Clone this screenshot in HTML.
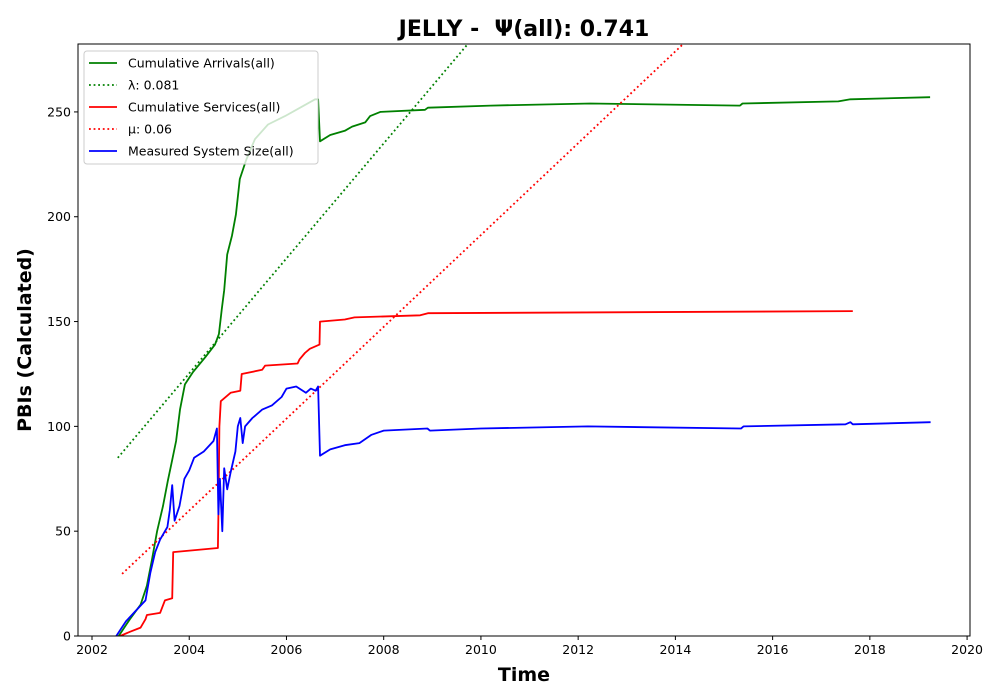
<!DOCTYPE html>
<html><head><meta charset="utf-8"><style>
html,body{margin:0;padding:0;background:#fff;}
svg{display:block;font-family:"DejaVu Sans","Liberation Sans",sans-serif;}
</style></head><body>
<svg id="chart" width="1000" height="700"></svg>
<script>
const arrivalsT=[2002.55,2002.78,2003.0,2003.13,2003.23,2003.34,2003.46,2003.56,2003.65,2003.73,2003.81,2003.91,2004.08,2004.33,2004.53,2004.61,2004.67,2004.72,2004.78,2004.88,2004.96,2005.04,2005.17,2005.35,2005.62,2005.97,2006.28,2006.59,2006.65,2006.69,2006.9,2007.2,2007.35,2007.62,2007.72,2007.93,2008.85,2008.91,2010.2,2012.25,2015.33,2015.38,2017.35,2017.6,2019.24];
const arrivalsV=[0,8,15,24,36,50,62,74,84,93,108,120,126,133,139,144,156,165,182,191,201,218,227,237,244,248,252,256,256,236,239,241,243,245,248,250,251,252,253,254,253,254,255,256,257];
const servicesT=[2002.58,2002.78,2003.0,2003.1,2003.13,2003.4,2003.5,2003.65,2003.67,2004.59,2004.6,2004.62,2004.65,2004.85,2005.05,2005.08,2005.5,2005.56,2006.23,2006.27,2006.38,2006.48,2006.68,2006.69,2007.2,2007.4,2008.75,2008.91,2017.65];
const servicesV=[0,2,4,8,10,11,17,18,40,42,58,100,112,116,117,125,127,129,130,132,135,137,139,150,151,152,153,154,155];
const sizeT=[2002.5,2002.7,2002.9,2003.1,2003.2,2003.3,2003.4,2003.55,2003.6,2003.65,2003.7,2003.8,2003.9,2004.0,2004.1,2004.3,2004.5,2004.57,2004.6,2004.63,2004.68,2004.72,2004.78,2004.85,2004.95,2005.0,2005.05,2005.1,2005.15,2005.3,2005.5,2005.7,2005.9,2006.0,2006.2,2006.4,2006.5,2006.6,2006.65,2006.69,2006.9,2007.2,2007.5,2007.75,2008.0,2008.9,2008.95,2010.0,2012.2,2015.35,2015.4,2017.5,2017.6,2017.65,2019.25];
const sizeV=[0,7,12,17,30,40,46,52,60,72,55,62,75,79,85,88,93,99,58,75,50,80,70,78,88,100,104,92,100,104,108,110,114,118,119,116,118,117,119,86,89,91,92,96,98,99,98,99,100,99,100,101,102,101,102];
const lambdaT=[2002.53,2009.73];
const lambdaV=[85,282.4];
const muT=[2002.62,2014.16];
const muV=[29.6,282.4];
const xTicks=[2002,2004,2006,2008,2010,2012,2014,2016,2018,2020];
const yTicks=[0,50,100,150,200,250];

const NS="http://www.w3.org/2000/svg";
const svg=document.getElementById('chart');
const L=78,R=970,T=44,B=636;
const xMin=2001.712,xMax=2020.06,yMin=0,yMax=282.4;
const xs=t=>L+(t-xMin)/(xMax-xMin)*(R-L);
const ys=v=>B-(v-yMin)/(yMax-yMin)*(B-T);
function mk(tag,attrs,parent){const e=document.createElementNS(NS,tag);for(const k in attrs)e.setAttribute(k,attrs[k]);(parent||svg).appendChild(e);return e;}

const defs=mk('defs',{});
const cp=mk('clipPath',{id:'clip'},defs);
mk('rect',{x:L,y:T,width:R-L,height:B-T},cp);

const title=mk('text',{x:524,y:36,'text-anchor':'middle','font-size':22,'font-weight':'bold'});
title.textContent='JELLY - \u00a0\u03A8(all): 0.741';



const plot=mk('g',{'clip-path':'url(#clip)'});


function line(T_,V_,color,dash,name){
  const p=T_.map((t,i)=>xs(t).toFixed(1)+','+ys(V_[i]).toFixed(1)).join(' ');
  const a={points:p,fill:'none',stroke:color,'stroke-width':1.8,'stroke-linejoin':'round'};
  if(dash)a['stroke-dasharray']=dash;
  const e=mk('polyline',a,plot);
  
  
}
line(arrivalsT,arrivalsV,'#008000',null,'cumulative-arrivals-line');
line(lambdaT,lambdaV,'#008000','1.8,2.8','lambda-line');
line(servicesT,servicesV,'#ff0000',null,'cumulative-services-line');
line(muT,muV,'#ff0000','1.8,2.8','mu-line');
line(sizeT,sizeV,'#0000ff',null,'system-size-line');

const frame=mk('rect',{x:L,y:T,width:R-L,height:B-T,fill:'none',stroke:'#000','stroke-width':1});



xTicks.forEach(t=>{
  const x=xs(t);
  mk('line',{x1:x,x2:x,y1:B,y2:B+4,stroke:'#000'});
  const tx=mk('text',{x:x,y:B+18,'text-anchor':'middle','font-size':12.5});
  tx.textContent=t;
  
  
});
yTicks.forEach(v=>{
  const y=ys(v);
  mk('line',{x1:L-4,x2:L,y1:y,y2:y,stroke:'#000'});
  const tx=mk('text',{x:L-7,y:y+4.5,'text-anchor':'end','font-size':12.5});
  tx.textContent=v;
  
  
});
const xl=mk('text',{x:524,y:681,'text-anchor':'middle','font-size':19,'font-weight':'bold'});
xl.textContent='Time';


const yl=mk('text',{x:0,y:0,'text-anchor':'middle','font-size':19,'font-weight':'bold',transform:'translate(31,340) rotate(-90)'});
yl.textContent='PBIs (Calculated)';



const lg=mk('g',{});


mk('rect',{x:84,y:51,width:234,height:113,rx:3,fill:'#fff','fill-opacity':0.8,stroke:'#ccc'},lg);
const entries=[['Cumulative Arrivals(all)','#008000',null],['\u03BB: 0.081','#008000','1.8,2.8'],['Cumulative Services(all)','#ff0000',null],['\u03BC: 0.06','#ff0000','1.8,2.8'],['Measured System Size(all)','#0000ff',null]];
entries.forEach((e,i)=>{
  const y=63+i*22;
  const a={x1:89,x2:117,y1:y,y2:y,stroke:e[1],'stroke-width':1.8};
  if(e[2])a['stroke-dasharray']=e[2];
  mk('line',a,lg);
  const tx=mk('text',{x:128,y:y+4.5,'font-size':12.5},lg);
  tx.textContent=e[0];
  
  
});
</script>
</body></html>
